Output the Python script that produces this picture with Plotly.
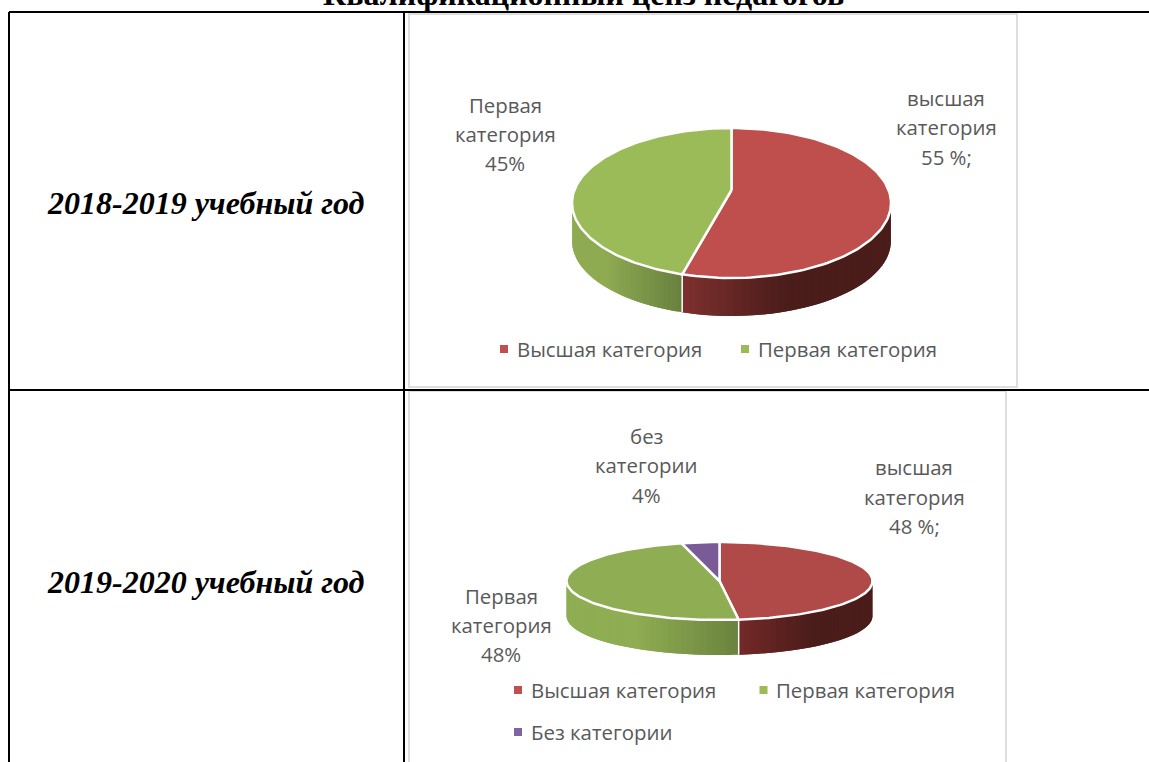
import numpy as np
import plotly.graph_objects as go

# chart data
categories_2018 = ["Высшая категория", "Первая категория"]
values_2018 = [55, 45]
categories_2019 = ["Высшая категория", "Первая категория", "Без категории"]
values_2019 = [48, 48, 4]

title_text = "Квалификационный ценз педагогов"
year_labels = ["2018-2019 учебный год", "2019-2020 учебный год"]

labels_2018 = [["высшая", "категория", "55 %;"], ["Первая", "категория", "45%"]]
labels_2019 = [["высшая", "категория", "48 %;"], ["Первая", "категория", "48%"], ["без", "категории", "4%"]]

W, H = 1149, 762
TEXT_GREY = "#595959"
SANS = "Open Sans"
SERIF = "Liberation Serif"


def lerp_color(c1, c2, t):
    t = max(0.0, min(1.0, t))
    r = [int(round(a + (b - a) * t)) for a, b in zip(c1, c2)]
    return "rgb(%d,%d,%d)" % tuple(r)


def add_pie(fig, values, cx, cy, rx, ry, depth, apex_dy, top_colors, side_colors):
    fracs = np.array(values, dtype=float) / sum(values)
    edges = np.concatenate([[0], np.cumsum(fracs)]) * 2 * np.pi

    def rim(a, dy=0):
        return cx + rx * np.sin(a), cy - ry * np.cos(a) + dy

    # side walls first, only the front half shows (clockwise angle 90..270)
    seams = []
    for i in range(len(values)):
        a0, a1 = max(edges[i], np.pi / 2), min(edges[i + 1], 3 * np.pi / 2)
        if a1 <= a0:
            continue
        if edges[i] > np.pi / 2 and edges[i] < 3 * np.pi / 2:
            seams.append(edges[i])
        steps = np.linspace(a0, a1, 41)
        step = steps[1] - steps[0]
        x_lo = min(rim(a0)[0], rim(a1)[0])
        x_hi = max(rim(a0)[0], rim(a1)[0])
        left, right, t0, t1 = side_colors[i]
        # every strip runs on under the next one, so no hairlines show between them
        for s0 in steps[:-1]:
            seg = np.linspace(s0, min(s0 + 2 * step, a1), 6)
            x0, y0 = rim(seg)
            x1, y1 = rim(seg[::-1], depth)
            xm = (rim(s0 + step / 2)[0] - x_lo) / (x_hi - x_lo)
            col = lerp_color(left, right, (xm - t0) / (t1 - t0))
            fig.add_trace(go.Scatter(
                x=np.concatenate([x0, x1]), y=np.concatenate([y0, y1]),
                mode="lines", fill="toself", fillcolor=col,
                line=dict(width=0), hoverinfo="skip",
            ))

    for a in seams:
        x0, y0 = rim(a)
        x1, y1 = rim(a, depth)
        fig.add_trace(go.Scatter(x=[x0, x1], y=[y0, y1], mode="lines",
                                 line=dict(color="white", width=1.5), hoverinfo="skip"))

    # top face
    for i in range(len(values)):
        arc = np.linspace(edges[i], edges[i + 1], 120)
        xs, ys = rim(arc)
        fig.add_trace(go.Scatter(
            x=np.concatenate([[cx], xs, [cx]]),
            y=np.concatenate([[cy + apex_dy], ys, [cy + apex_dy]]),
            mode="lines", fill="toself", fillcolor=top_colors[i],
            line=dict(color="white", width=2.5), hoverinfo="skip",
        ))


def add_text(fig, x, y, text, size=20.4, color=TEXT_GREY, family=SANS, anchor="center", bold=False, vanchor="middle"):
    fig.add_annotation(x=x, y=y, text=("<b>%s</b>" % text) if bold else text, showarrow=False,
                       xanchor=anchor, yanchor=vanchor, font=dict(size=size, color=color, family=family))


def add_label(fig, x, ys, lines):
    for y, line in zip(ys, lines):
        add_text(fig, x, y, line)


fig = go.Figure()

add_pie(fig, values_2018, 731.5, 203, 159.5, 75, 38, -13,
        ["#BE4F4C", "#9BBB59"],
        [((0x7E, 0x30, 0x2E), (0x4A, 0x1C, 0x1A), 0.0, 0.5),
         ((0x8F, 0xAB, 0x52), (0x68, 0x80, 0x3E), 0.3, 1.0)])

add_pie(fig, values_2019, 719.5, 581, 153, 39, 35, 0,
        ["#B04A48", "#8FAD52", "#7B5B97"],
        [((0x74, 0x2A, 0x28), (0x4A, 0x1C, 0x1A), 0.0, 0.55),
         ((0x8F, 0xAD, 0x52), (0x6A, 0x83, 0x3E), 0.4, 1.0),
         ((0x7B, 0x5B, 0x97), (0x7B, 0x5B, 0x97), 0.0, 1.0)])

# legend swatches
legend_colors = ["#C0504D", "#9BBB59", "#8064A2"]
fig.add_trace(go.Scatter(x=[504, 745], y=[349, 349], mode="markers", hoverinfo="skip",
                         marker=dict(symbol="square", size=8, color=legend_colors[:2])))
fig.add_trace(go.Scatter(x=[518, 763.5, 518], y=[690, 690, 732], mode="markers", hoverinfo="skip",
                         marker=dict(symbol="square", size=8, color=legend_colors)))

add_text(fig, 515, 349, categories_2018[0], anchor="left")
add_text(fig, 756, 349, categories_2018[1], anchor="left")
add_text(fig, 529, 690, categories_2019[0], anchor="left")
add_text(fig, 774, 690, categories_2019[1], anchor="left")
add_text(fig, 529, 732, categories_2019[2], anchor="left")

add_label(fig, 946, [98, 127, 157], labels_2018[0])
add_label(fig, 505, [105, 134, 163], labels_2018[1])
add_label(fig, 914, [467, 497, 526], labels_2019[0])
add_label(fig, 501, [596, 625, 654], labels_2019[1])
add_label(fig, 646, [436, 465, 495], labels_2019[2])

add_text(fig, 206, 203, "<i>%s</i>" % year_labels[0], size=32, color="black", family=SERIF, bold=True)
add_text(fig, 206, 582, "<i>%s</i>" % year_labels[1], size=32, color="black", family=SERIF, bold=True)
# the scan crops this heading at the top edge
add_text(fig, 583.5, 14, title_text, size=32, color="black", family=SERIF, bold=True, vanchor="bottom")

# chart cards and table rules
card = dict(color="#DEDEDE", width=2)
rule = dict(color="black", width=2)
shapes = [
    dict(type="rect", x0=409, x1=1017, y0=14, y1=387, line=card),
    dict(type="rect", x0=409, x1=1006, y0=391, y1=770, line=card),
    dict(type="line", x0=9, x1=W, y0=12, y1=12, line=rule),
    dict(type="line", x0=9, x1=W, y0=390, y1=390, line=rule),
    dict(type="line", x0=9, x1=9, y0=12, y1=H, line=rule),
    dict(type="line", x0=404, x1=404, y0=12, y1=H, line=rule),
]
for s in shapes:
    s["layer"] = "below"

fig.update_layout(
    width=W, height=H, margin=dict(l=0, r=0, t=0, b=0),
    paper_bgcolor="white", plot_bgcolor="white", showlegend=False, shapes=shapes,
    xaxis=dict(range=[0, W], visible=False, fixedrange=True),
    yaxis=dict(range=[H, 0], visible=False, fixedrange=True),
)

fig.write_html("out.html", config={"displayModeBar": False},
               post_script="document.body.style.margin='0';")
